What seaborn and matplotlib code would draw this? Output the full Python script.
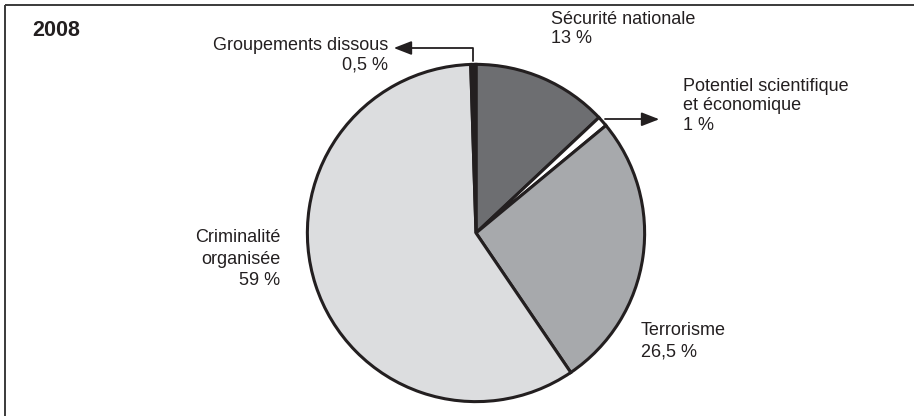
import numpy as np
import matplotlib
matplotlib.use("Agg")
import matplotlib.pyplot as plt
import seaborn as sns

# Data
categories = ["Sécurité nationale", "Potentiel scientifique\net économique",
              "Terrorisme", "Criminalité\norganisée", "Groupements dissous"]
shares = [13, 1, 26.5, 59, 0.5]
share_labels = ["13 %", "1 %", "26,5 %", "59 %", "0,5 %"]
colors = ["#6d6e71", "#ffffff", "#a7a9ac", "#dcdddf", "#231f20"]
year = "2008"

sns.set_theme(style="white")
plt.rcParams["font.family"] = ["Liberation Sans Narrow", "Liberation Sans", "DejaVu Sans"]

W, H = 914, 416
fig = plt.figure(figsize=(W / 100, H / 100), dpi=100)
fig.patch.set_facecolor("white")

# overlay axes in pixel coordinates
ov = fig.add_axes([0, 0, 1, 1])
ov.set_xlim(0, W)
ov.set_ylim(H, 0)
ov.axis("off")

cx, cy, r = 476, 233, 172
pie_ax = fig.add_axes([(cx - r) / W, (H - cy - r) / H, 2 * r / W, 2 * r / H])
wedges, _ = pie_ax.pie(shares, colors=colors, startangle=90, counterclock=False,
                       wedgeprops=dict(edgecolor="#231f20", linewidth=2.2,
                                       joinstyle="miter"))
pie_ax.set_xlim(-1.02, 1.02)
pie_ax.set_ylim(-1.02, 1.02)
pie_ax.set_aspect("equal")
pie_ax.axis("off")

txtc = "#231f20"

# border (top and left)
ov.plot([4.5, W], [4.5, 4.5], color="#3a3a3a", lw=1.4, solid_capstyle="butt")
ov.plot([4.5, 4.5], [4.5, H], color="#3a3a3a", lw=1.4, solid_capstyle="butt")

ov.text(32, 31, year, fontsize=15.5, fontweight="bold", color=txtc, va="center", ha="left")

fs = 13
ls = 1.22
# Sécurité nationale
ov.text(551, 29, categories[0] + "\n" + share_labels[0], fontsize=fs, color=txtc,
        ha="left", va="center", linespacing=ls)
# Potentiel scientifique
ov.text(683, 106, categories[1] + "\n" + share_labels[1], fontsize=fs, color=txtc,
        ha="left", va="center", linespacing=ls)
# Terrorisme
ov.text(641, 341, categories[2] + "\n" + share_labels[2], fontsize=fs, color=txtc,
        ha="left", va="center", linespacing=1.35)
# Criminalité
ov.text(280, 259, categories[3] + "\n" + share_labels[3], fontsize=fs, color=txtc,
        ha="right", va="center", linespacing=1.32, multialignment="right")
# Groupements dissous
ov.text(388, 55, categories[4] + "\n" + share_labels[4], fontsize=fs, color=txtc,
        ha="right", va="center", linespacing=ls, multialignment="right")

# arrows
cum = np.cumsum([0] + shares)
def edge_point(i):
    mid = (cum[i] + cum[i + 1]) / 2 / 100 * 2 * np.pi
    return cx + r * np.sin(mid), cy - r * np.cos(mid)

px, py = edge_point(1)
ov.plot([px, 648], [py, py], color=txtc, lw=1.3)
ov.annotate("", xy=(662, py), xytext=(645, py),
            arrowprops=dict(arrowstyle="-|>,head_length=0.9,head_width=0.35",
                            color=txtc, lw=1.3))
gx, gy = edge_point(4)
ov.plot([gx, gx, 405], [gy, 48, 48], color=txtc, lw=1.3)
ov.annotate("", xy=(391, 48), xytext=(408, 48),
            arrowprops=dict(arrowstyle="-|>,head_length=0.9,head_width=0.35",
                            color=txtc, lw=1.3))

fig.savefig("out.png", dpi=100, facecolor="white")
